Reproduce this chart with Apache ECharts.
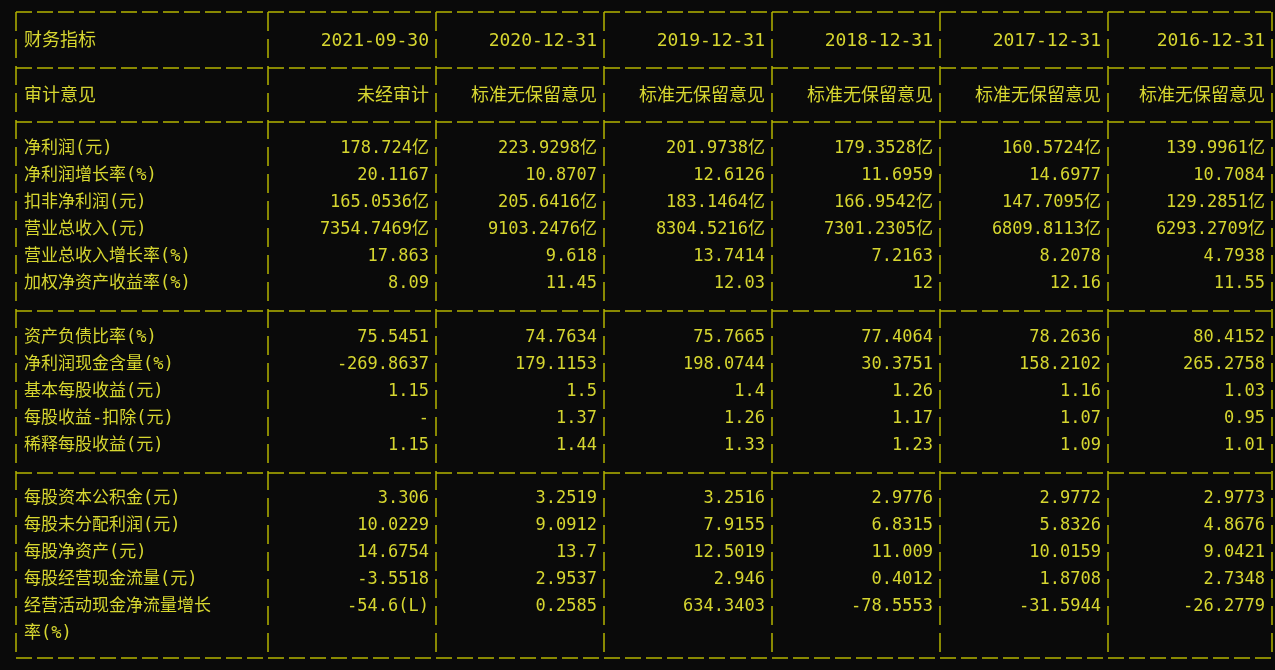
<!DOCTYPE html>
<html><head><meta charset="utf-8">
<script src="https://cdn.jsdelivr.net/npm/echarts@6/dist/echarts.min.js"></script>
<style>html,body{margin:0;background:#0a0a0a}#main{width:1275px;height:670px}</style>
</head><body><div id="main"></div>
<script>
var dates = ['2021-09-30', '2020-12-31', '2019-12-31', '2018-12-31', '2017-12-31', '2016-12-31'];
var audit = ['未经审计', '标准无保留意见', '标准无保留意见', '标准无保留意见', '标准无保留意见', '标准无保留意见'];
var sec1Names = ['净利润(元)', '净利润增长率(%)', '扣非净利润(元)', '营业总收入(元)', '营业总收入增长率(%)', '加权净资产收益率(%)'];
var sec1 = [
    ['178.724亿', '223.9298亿', '201.9738亿', '179.3528亿', '160.5724亿', '139.9961亿'],
    ['20.1167', '10.8707', '12.6126', '11.6959', '14.6977', '10.7084'],
    ['165.0536亿', '205.6416亿', '183.1464亿', '166.9542亿', '147.7095亿', '129.2851亿'],
    ['7354.7469亿', '9103.2476亿', '8304.5216亿', '7301.2305亿', '6809.8113亿', '6293.2709亿'],
    ['17.863', '9.618', '13.7414', '7.2163', '8.2078', '4.7938'],
    ['8.09', '11.45', '12.03', '12', '12.16', '11.55']
];
var sec2Names = ['资产负债比率(%)', '净利润现金含量(%)', '基本每股收益(元)', '每股收益-扣除(元)', '稀释每股收益(元)'];
var sec2 = [
    ['75.5451', '74.7634', '75.7665', '77.4064', '78.2636', '80.4152'],
    ['-269.8637', '179.1153', '198.0744', '30.3751', '158.2102', '265.2758'],
    ['1.15', '1.5', '1.4', '1.26', '1.16', '1.03'],
    ['-', '1.37', '1.26', '1.17', '1.07', '0.95'],
    ['1.15', '1.44', '1.33', '1.23', '1.09', '1.01']
];
var sec3Names = ['每股资本公积金(元)', '每股未分配利润(元)', '每股净资产(元)', '每股经营现金流量(元)', '经营活动现金净流量增长', '率(%)'];
var sec3 = [
    ['3.306', '3.2519', '3.2516', '2.9776', '2.9772', '2.9773'],
    ['10.0229', '9.0912', '7.9155', '6.8315', '5.8326', '4.8676'],
    ['14.6754', '13.7', '12.5019', '11.009', '10.0159', '9.0421'],
    ['-3.5518', '2.9537', '2.946', '0.4012', '1.8708', '2.7348'],
    ['-54.6(L)', '0.2585', '634.3403', '-78.5553', '-31.5944', '-26.2779'],
    ['', '', '', '', '', '']
];

var chart = echarts.init(document.getElementById('main'));
var LINE = '#b4b400', TEXT = '#d6d630';
var FONT = '"DejaVu Sans Mono","Noto Sans CJK SC",monospace';
var colX = [16, 268, 436, 604, 772, 940, 1108, 1272];
var rowH = 27;
var els = [];

function hline(y) {
    els.push({type: 'line', shape: {x1: colX[0], y1: y, x2: colX[7], y2: y},
        style: {stroke: LINE, lineWidth: 1.5, lineDash: [16, 5]}});
}
function vlines(y1, y2) {
    colX.forEach(function (x) {
        els.push({type: 'line', shape: {x1: x, y1: y1, x2: x, y2: y2},
            style: {stroke: LINE, lineWidth: 1.5, lineDash: [19, 8]}});
    });
}
function row(name, vals, y, size) {
    els.push({type: 'text', x: colX[0] + 8, y: y,
        style: {text: name, fill: TEXT, font: (size || 17) + 'px ' + FONT, verticalAlign: 'middle'}});
    vals.forEach(function (v, i) {
        els.push({type: 'text', x: colX[i + 2] - 7, y: y,
            style: {text: v, fill: TEXT, font: (size || 17) + 'px ' + FONT, align: 'right', verticalAlign: 'middle'}});
    });
}

// header
hline(12); row('财务指标', dates, 41, 18);
hline(68); row('审计意见', audit, 96, 18);
hline(122);
var y = 149;
sec1Names.forEach(function (n, i) { row(n, sec1[i], y); y += rowH; });
hline(y); y += 27;
sec2Names.forEach(function (n, i) { row(n, sec2[i], y); y += rowH; });
hline(y); y += 26;
sec3Names.forEach(function (n, i) { row(n, sec3[i], y); y += rowH; });
hline(y - 3);
vlines(12, y - 3);

chart.setOption({backgroundColor: '#0a0a0a', graphic: els});
</script></body></html>
